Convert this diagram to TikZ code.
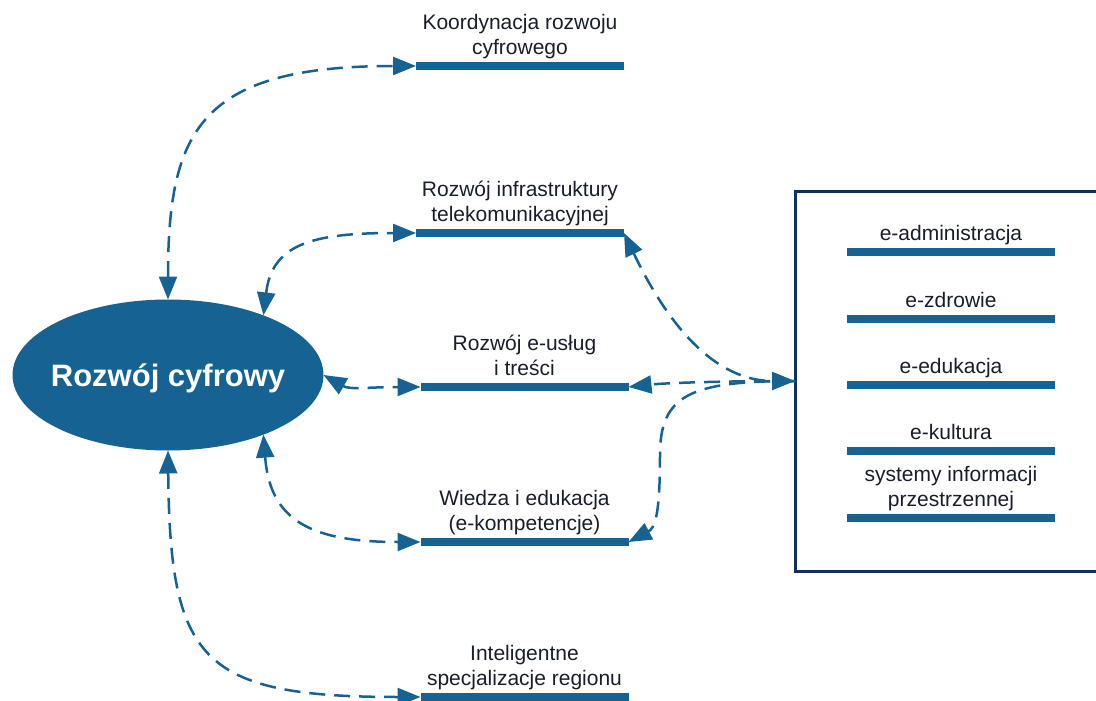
\documentclass[tikz,border=0pt]{standalone}
\usepackage{fontspec}
\setmainfont{Liberation Sans}
\usetikzlibrary{shapes.geometric,arrows.meta}
\definecolor{cblue}{RGB}{22,98,146}
\definecolor{cnavy}{RGB}{16,48,94}
\definecolor{ctext}{RGB}{24,30,42}
\begin{document}
\begin{tikzpicture}[x=1pt,y=-1pt,
  >={Triangle[length=23pt,width=18pt]},
  bar/.style={fill=cblue, minimum width=208pt, minimum height=7.5pt, inner sep=0pt, outer sep=0pt},
  lbl/.style={anchor=south, inner sep=0pt, outer sep=0pt, align=center, text=ctext, font=\fontsize{21}{25}\selectfont},
  link/.style={draw=cblue, line width=2.5pt, dash pattern=on 16pt off 9pt}]
\useasboundingbox (0,0) rectangle (1096,701);

% central ellipse
\node[ellipse, fill=cblue, minimum width=311pt, minimum height=151pt, inner sep=0pt, outer sep=0pt,
  text=white, font=\fontsize{31}{37}\selectfont\bfseries]
  (rc) at (168,375) {\makebox[0pt]{\raisebox{-11.1pt}[0pt][0pt]{Rozwój cyfrowy}}};

% left group bars and labels
\node[bar] (b1) at (520,66) {};
\node[bar] (b2) at (520,233) {};
\node[bar] (b3) at (524.5,387) {};
\node[bar] (b4) at (524.5,542) {};
\node[bar] (b5) at (524.5,697) {};
\node[lbl] (t1) at (b1.north) {Koordynacja rozwoju\\cyfrowego\strut};
\node[lbl] (t2) at (b2.north) {Rozwój infrastruktury\\telekomunikacyjnej\strut};
\node[lbl] (t3) at (b3.north) {Rozwój e-usług\\i treści\strut};
\node[lbl] (t4) at (b4.north) {Wiedza i edukacja\\(e-kompetencje)\strut};
\node[lbl] (t5) at (b5.north) {Inteligentne\\specjalizacje regionu\strut};

% right box (its right side lies beyond the picture)
\node[draw=cnavy, line width=3pt, minimum width=420pt, minimum height=380pt, anchor=north west,
  inner sep=0pt, outer sep=0pt] (box) at (795,191) {};
\node[bar] (r1) at (951,252) {};
\node[bar] (r2) at (951,319) {};
\node[bar] (r3) at (951,385) {};
\node[bar] (r4) at (951,451) {};
\node[bar] (r5) at (951,518) {};
\node[lbl] (s1) at (r1.north) {e-administracja\strut};
\node[lbl] (s2) at (r2.north) {e-zdrowie\strut};
\node[lbl] (s3) at (r3.north) {e-edukacja\strut};
\node[lbl] (s4) at (r4.north) {e-kultura\strut};
\node[lbl] (s5) at (r5.north) {systemy informacji\\przestrzennej\strut};

% connectors from the ellipse
\draw[link,<->] (rc.north) .. controls (168,130) and (200,66) .. (b1.west);
\draw[link,<->] (rc.32) .. controls (272,245) and (310,233) .. (b2.west);
\draw[link,<->] (rc.east) .. controls (350,390) and (370,387) .. (b3.west);
\draw[link,<->] (rc.-32) .. controls (270,520) and (310,542) .. (b4.west);
\draw[link,<->] (rc.south) .. controls (170,660) and (200,697) .. (b5.west);

% connectors from the box
\draw[link,<->] (b2.east) .. controls (680,350) and (730,381) .. (box.west);
\draw[link,->] (box.west) .. controls (720,381) and (665,383) .. (b3.east);
\draw[link,->] (box.west) .. controls (690,381) and (660,395) .. (660,455)
  .. controls (660,515) and (655,528) .. (b4.east);
\end{tikzpicture}
\end{document}
